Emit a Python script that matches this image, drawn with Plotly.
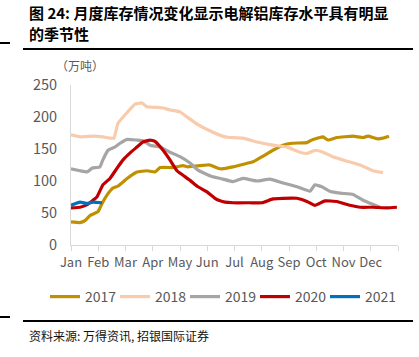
import plotly.graph_objects as go

# x positions in months from Jan 1 (0 = Jan, 12 = end of Dec)
x2017 = [0, 0.33, 0.51, 0.70, 0.99, 1.14, 1.32, 1.54, 1.72, 2.06, 2.42, 2.79, 3.08, 3.27, 3.74, 4.11, 4.29, 4.48,
         4.99, 5.10, 5.39, 5.54, 5.94, 6.31, 6.68, 7.05, 7.41, 7.78, 8.11, 8.66, 8.88, 9.25, 9.43, 9.76, 10.35,
         10.72, 10.90, 11.23, 11.45, 11.67]
y2017 = [36, 35, 38, 46, 52, 65, 78, 89, 92, 104, 114, 116, 114, 121, 121, 124, 122, 123,
         125, 125, 120, 119, 122, 126, 130, 139, 148, 156, 159, 160, 165, 169, 164, 168, 170,
         168, 170, 166, 167, 170]

x2018 = [0, 0.33, 0.81, 1.17, 1.43, 1.58, 1.72, 2.06, 2.35, 2.60, 2.79, 3.16, 3.38, 3.63, 4.00, 4.26, 4.66,
         5.17, 5.65, 5.83, 6.31, 6.83, 7.41, 7.93, 8.40, 8.66, 8.95, 9.25, 9.61, 10.13, 10.61, 11.08, 11.45]
y2018 = [172, 169, 170, 169, 167, 167, 190, 207, 220, 222, 216, 215, 214, 211, 208, 200, 188,
         177, 169, 168, 167, 161, 156, 153, 145, 143, 148, 145, 138, 131, 125, 116, 113]

x2019 = [0, 0.33, 0.59, 0.77, 1.06, 1.17, 1.36, 1.61, 1.80, 2.06, 2.42, 2.64, 2.90, 3.27, 3.63, 4.00, 4.37,
         4.66, 5.17, 5.58, 5.94, 6.31, 6.83, 7.30, 7.78, 8.29, 8.77, 8.95, 9.21, 9.50, 9.87, 10.35, 10.72,
         11.05, 11.34]
y2019 = [119, 116, 114, 120, 122, 133, 148, 153, 159, 165, 164, 163, 156, 153, 145, 138, 128,
         117, 107, 103, 99, 104, 100, 103, 97, 91, 84, 94, 91, 84, 81, 79, 70,
         64, 59]

x2020 = [0, 0.33, 0.59, 0.95, 1.17, 1.43, 1.69, 1.91, 2.17, 2.42, 2.64, 2.90, 3.08, 3.38, 3.63, 3.89, 4.11,
         4.37, 4.66, 4.99, 5.28, 5.47, 5.65, 5.94, 6.57, 7.01, 7.41, 7.78, 8.29, 8.66, 8.95, 9.32, 9.76,
         10.24, 10.61, 11.08, 11.60, 11.96]
y2020 = [58, 59, 63, 75, 94, 104, 120, 133, 144, 153, 161, 164, 162, 148, 133, 116, 109,
         101, 91, 83, 73, 69, 67, 66, 66, 66, 72, 73, 73, 68, 62, 69, 68,
         62, 59, 59, 58, 59]

x2021 = [0, 0.33, 0.59, 0.81, 1.14]
y2021 = [62, 67, 65, 67, 66]

series_names = ["2017", "2018", "2019", "2020", "2021"]
series_x = [x2017, x2018, x2019, x2020, x2021]
series_y = [y2017, y2018, y2019, y2020, y2021]
colors = ["#BF9000", "#F8CBAD", "#A5A5A5", "#C00000", "#0070C0"]

month_labels = ["Jan", "Feb", "Mar", "Apr", "May", "Jun", "Jul", "Aug", "Sep", "Oct", "Nov", "Dec", ""]
y_ticks = [0, 50, 100, 150, 200, 250]

fig = go.Figure()
for name, xs, ys, c in zip(series_names, series_x, series_y, colors):
    fig.add_trace(go.Scatter(x=xs, y=ys, name=name, mode="lines",
                             line=dict(color=c, width=3.2, shape="spline", smoothing=0.3)))

W, H = 419, 357
L, R, T, B = 71, 398, 85, 245
pw, ph = R - L, B - T

def px(x):
    return (x - L) / pw

def py(y):
    return (B - y) / ph

fig.update_layout(
    width=W, height=H,
    margin=dict(l=L, r=W - R, t=T, b=H - B, autoexpand=False),
    paper_bgcolor="white", plot_bgcolor="white",
    font=dict(family="Noto Sans CJK SC, Noto Sans, sans-serif", color="#595959"),
    showlegend=True,
    legend=dict(orientation="h", x=px(45), xanchor="left", y=py(297), yanchor="middle",
                font=dict(size=14, color="#595959"), entrywidth=25, entrywidthmode="pixels",
                bgcolor="rgba(0,0,0,0)"),
    xaxis=dict(range=[0, 12], tickvals=list(range(13)), ticktext=month_labels,
               showgrid=False, zeroline=False, showline=True, linecolor="#D9D9D9", linewidth=1,
               ticks="outside", ticklen=5, tickcolor="#D9D9D9",
               tickfont=dict(size=13, color="#595959"), fixedrange=True),
    yaxis=dict(range=[0, 250], tickvals=y_ticks, showgrid=False, zeroline=False,
               showline=True, linecolor="#D9D9D9", linewidth=1, ticks="",
               ticklabelstandoff=10,
               tickfont=dict(size=14.5, color="#595959"), fixedrange=True),
)

annotations = [
    dict(text="<b>图 24: 月度库存情况变化显示电解铝库存水平具有明显</b>", x=px(27), y=py(12),
         xanchor="left", yanchor="middle", font=dict(size=15, color="#000000")),
    dict(text="<b>的季节性</b>", x=px(27), y=py(34),
         xanchor="left", yanchor="middle", font=dict(size=15, color="#000000")),
    dict(text="（万吨）", x=px(80), y=py(65), xanchor="center", yanchor="middle",
         font=dict(size=12, color="#595959")),
    dict(text="资料来源: 万得资讯, 招银国际证券", x=px(27), y=py(335),
         xanchor="left", yanchor="middle", font=dict(size=12, color="#111111")),
]
for a in annotations:
    fig.add_annotation(xref="paper", yref="paper", showarrow=False, **a)

shapes = [
    (23, 413, 49, 2),
    (0, 10, 43, 2),
    (23, 413, 321, 2),
    (0, 10, 317, 2),
]
for x0, x1, yy, w in shapes:
    fig.add_shape(type="line", xref="paper", yref="paper", x0=px(x0), x1=px(x1), y0=py(yy), y1=py(yy),
                  line=dict(color="black", width=w))

fig.write_html("out.html", config={"displayModeBar": False},
               post_script="document.body.style.margin='0';")
